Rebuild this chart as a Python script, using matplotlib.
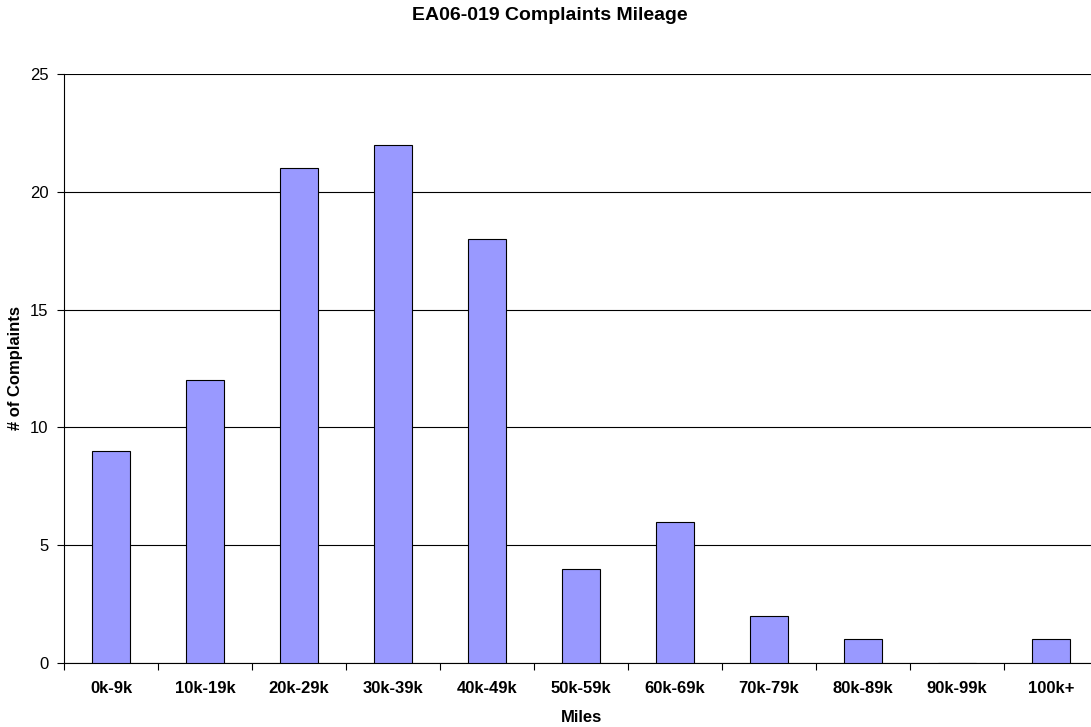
import matplotlib.pyplot as plt
import numpy as np

# Complaint counts by mileage bucket
categories = ['0k-9k', '10k-19k', '20k-29k', '30k-39k', '40k-49k', '50k-59k',
              '60k-69k', '70k-79k', '80k-89k', '90k-99k', '100k+']
complaints = [9, 12, 21, 22, 18, 4, 6, 2, 1, 0, 1]

plt.rcParams['font.family'] = ['Liberation Sans', 'DejaVu Sans']

W, H = 1091, 727
fig = plt.figure(figsize=(W / 100, H / 100), dpi=100)
# plot area runs past the right edge of the image, as in the original
ax = fig.add_axes([64 / W, 1 - 663 / H, 1034 / W, (663 - 74) / H])

x = np.arange(len(categories))
ax.bar(x, complaints, width=0.40, color='#9999FF', edgecolor='black', linewidth=0.8, zorder=3)

ax.set_xlim(-0.5, len(categories) - 0.5)
ax.set_ylim(0, 25)
ax.set_yticks(range(0, 26, 5))
ax.yaxis.grid(True, color='black', linewidth=0.8, zorder=0)

# category labels centered, tick marks on the boundaries
ax.set_xticks(x)
ax.set_xticklabels(categories, fontsize=12, fontweight='bold')
ax.tick_params(axis='x', which='major', length=0, pad=13)
ax.set_xticks(np.arange(-0.5, len(categories)), minor=True)
ax.tick_params(axis='x', which='minor', length=5, width=0.8, direction='out')
ax.tick_params(axis='y', labelsize=12, length=5, width=0.8, direction='out', pad=6)

for side in ['top', 'right']:
    ax.spines[side].set_visible(False)
for side in ['left', 'bottom']:
    ax.spines[side].set_linewidth(0.8)

ax.set_xlabel('Miles', fontsize=12, fontweight='bold', va='center')
ax.xaxis.set_label_coords(0.5, (663 - 717) / 589)
ax.set_ylabel('# of Complaints', fontsize=12, fontweight='bold', va='center', ha='center')
ax.yaxis.set_label_coords((16 - 64) / 1034, 0.5)
fig.text(550 / W, 1 - 16 / H, 'EA06-019 Complaints Mileage', fontsize=14,
         fontweight='bold', ha='center', va='center')

fig.savefig('out.png', dpi=100)
